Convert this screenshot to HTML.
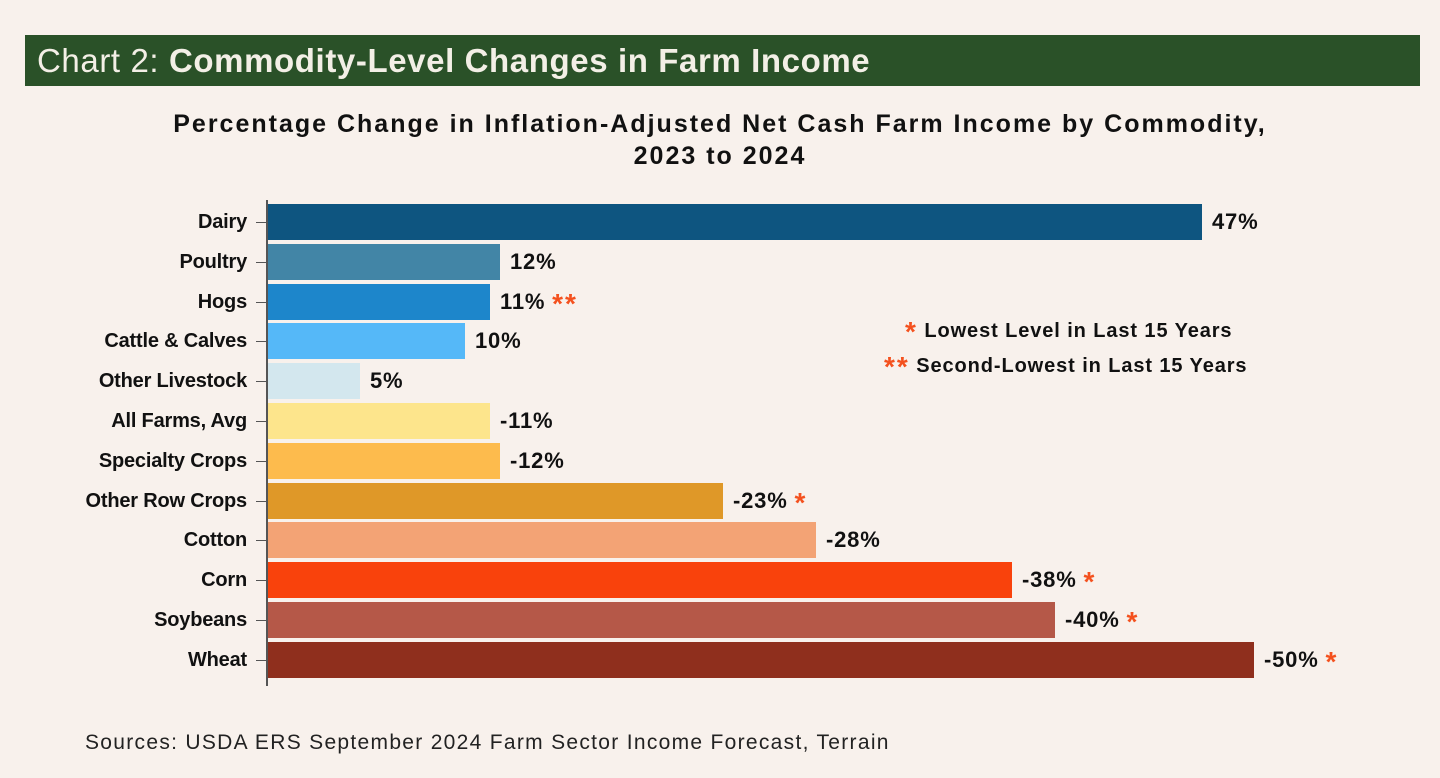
<!DOCTYPE html>
<html><head><meta charset="utf-8"><style>
body{margin:0;width:1440px;height:778px;background:#f8f1ec;position:relative;overflow:hidden;font-family:"Liberation Sans",sans-serif;}
.hdr{position:absolute;left:25px;top:35px;width:1395px;height:51px;background:#2a5128;color:#f3efe6;font-size:33px;line-height:51px;padding-left:12px;box-sizing:border-box;letter-spacing:0.6px;}
.hdr b{font-weight:bold}
.t{position:absolute;left:0;width:1440px;text-align:center;top:108px;font-size:25px;font-weight:bold;line-height:32px;color:#111;letter-spacing:2px;}
.lab{position:absolute;right:1193px;font-size:20px;font-weight:bold;color:#111;letter-spacing:-0.2px;line-height:24px;}
.tick{position:absolute;left:256px;width:11px;height:1px;background:#555;}
.bar{position:absolute;left:268px;height:36px;}
.val{position:absolute;font-size:22px;font-weight:bold;color:#111;letter-spacing:0.8px;white-space:nowrap;line-height:26px;}
.st{color:#f4511e;font-weight:bold;font-size:28px;line-height:0;position:relative;top:4px;letter-spacing:2px;}
.leg{position:absolute;font-size:20px;font-weight:bold;color:#111;white-space:nowrap;line-height:24px;letter-spacing:0.9px;}
.src{position:absolute;left:85px;top:731px;font-size:21px;color:#222;letter-spacing:1.3px;}
</style></head><body>
<div class="hdr">Chart 2: <b>Commodity-Level Changes in Farm Income</b></div>
<div class="t">Percentage Change in Inflation-Adjusted Net Cash Farm Income by Commodity,<br>2023 to 2024</div>
<div style="position:absolute;left:266px;top:200px;width:2px;height:486px;background:#555"></div>
<div id="c"></div>
<div class="leg" style="left:905px;top:319px"><span class="st">*</span> Lowest Level in Last 15 Years</div>
<div class="leg" style="left:884px;top:354px"><span class="st">**</span> Second-Lowest in Last 15 Years</div>
<div class="src">Sources: USDA ERS September 2024 Farm Sector Income Forecast, Terrain</div>
<script>
var d=[["Dairy",1202,"#0e5580","47%",""],["Poultry",500,"#4285a6","12%",""],["Hogs",490,"#1d86cb","11%","**"],["Cattle &amp; Calves",465,"#55b8f8","10%",""],["Other Livestock",360,"#d3e7ee","5%",""],["All Farms, Avg",490,"#fde58c","-11%",""],["Specialty Crops",500,"#fdbb4d","-12%",""],["Other Row Crops",723,"#df9828","-23%","*"],["Cotton",816,"#f3a375","-28%",""],["Corn",1012,"#f9420c","-38%","*"],["Soybeans",1055,"#b55848","-40%","*"],["Wheat",1254,"#8f2f1d","-50%","*"]];
var h="";d.forEach(function(r,i){var c=222+i*39.8;
h+='<div class="lab" style="top:'+(c-12)+'px">'+r[0]+'</div><div class="tick" style="top:'+c+'px"></div>';
h+='<div class="bar" style="top:'+(c-18)+'px;width:'+(r[1]-268)+'px;background:'+r[2]+'"></div>';
h+='<div class="val" style="left:'+(r[1]+10)+'px;top:'+(c-13)+'px">'+r[3]+(r[4]?' <span class="st">'+r[4]+'</span>':'')+'</div>';});
document.getElementById("c").innerHTML=h;
</script>
</body></html>
